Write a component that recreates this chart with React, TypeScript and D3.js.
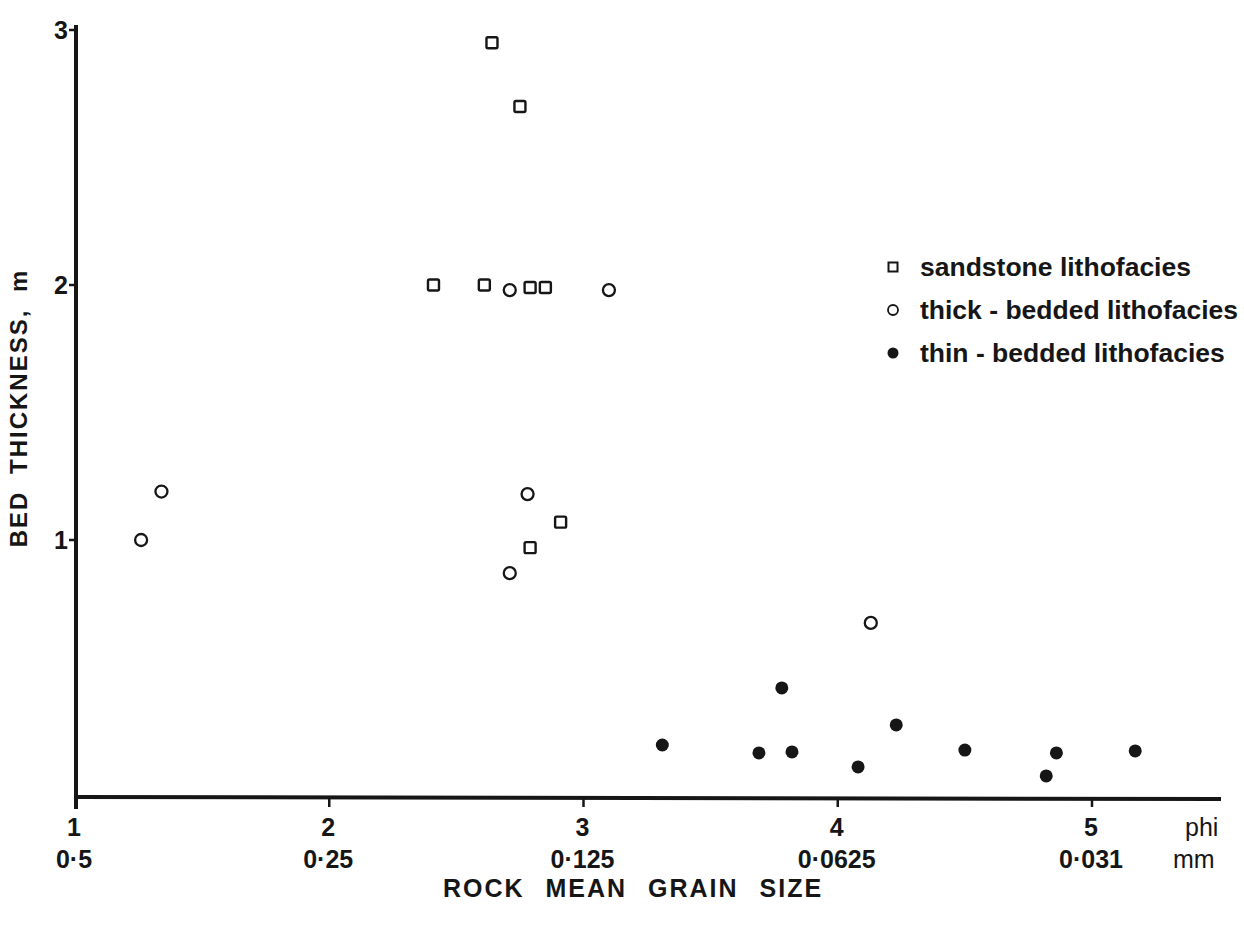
import React, { useEffect, useRef } from "react";
import * as d3 from "d3";

// grain size in phi, bed thickness in m
const sandstonePhi = [2.64, 2.75, 2.41, 2.61, 2.79, 2.85, 2.91, 2.79];
const sandstoneThick = [2.95, 2.7, 2.0, 2.0, 1.99, 1.99, 1.07, 0.97];

const thickBeddedPhi = [1.26, 1.34, 2.71, 3.1, 2.78, 2.71, 4.13];
const thickBeddedThick = [1.0, 1.19, 1.98, 1.98, 1.18, 0.87, 0.675];

const thinBeddedPhi = [3.31, 3.69, 3.82, 3.78, 4.08, 4.23, 4.5, 4.82, 4.86, 5.17];
const thinBeddedThick = [0.196, 0.165, 0.169, 0.42, 0.11, 0.275, 0.176, 0.075, 0.165, 0.173];

const phiTicks = [1, 2, 3, 4, 5];
const mmLabels = ["0·5", "0·25", "0·125", "0·0625", "0·031"];
const thickTicks = [1, 2, 3];

const legendLabels = [
  "sandstone lithofacies",
  "thick - bedded lithofacies",
  "thin - bedded lithofacies",
];

const App = () => {
  const svgRef = useRef<SVGSVGElement>(null);

  useEffect(() => {
    const svg = d3.select(svgRef.current);
    svg.selectAll("*").remove();

    const width = 1244;
    const height = 929;
    const ink = "#161616";
    const font = "'Liberation Sans', Arial, sans-serif";

    const x = d3.scaleLinear().domain([1, 5]).range([75, 1092]);
    const y = d3.scaleLinear().domain([0, 3]).range([795, 30]);

    svg.append("rect").attr("width", width).attr("height", height).attr("fill", "#fff");

    // axes
    svg
      .append("line")
      .attr("x1", x(1))
      .attr("x2", 1221)
      .attr("y1", y(0) + 2)
      .attr("y2", y(0) + 4)
      .attr("stroke", ink)
      .attr("stroke-width", 4);
    svg
      .append("line")
      .attr("x1", x(1) + 1)
      .attr("x2", x(1) + 1)
      .attr("y1", y(3) - 5)
      .attr("y2", y(0) + 14)
      .attr("stroke", ink)
      .attr("stroke-width", 4);

    // x ticks
    svg
      .selectAll(".xtick")
      .data(phiTicks.slice(1))
      .join("line")
      .attr("x1", (d) => x(d))
      .attr("x2", (d) => x(d))
      .attr("y1", y(0) + 4)
      .attr("y2", y(0) + 12)
      .attr("stroke", ink)
      .attr("stroke-width", 2.5);

    svg
      .selectAll(".xlab")
      .data(phiTicks)
      .join("text")
      .attr("x", (d) => x(d) - 1)
      .attr("y", 836)
      .attr("text-anchor", "middle")
      .attr("font-family", font)
      .attr("font-weight", "bold")
      .attr("font-size", 25)
      .attr("fill", ink)
      .text((d) => d);

    svg
      .selectAll(".mmlab")
      .data(mmLabels)
      .join("text")
      .attr("x", (d, i) => x(phiTicks[i]) - 1)
      .attr("y", 868)
      .attr("text-anchor", "middle")
      .attr("font-family", font)
      .attr("font-weight", "bold")
      .attr("font-size", 25)
      .attr("fill", ink)
      .text((d) => d);

    svg
      .append("text")
      .attr("x", 1185)
      .attr("y", 836)
      .attr("font-family", font)
      .attr("font-size", 25)
      .attr("fill", ink)
      .text("phi");
    svg
      .append("text")
      .attr("x", 1173)
      .attr("y", 868)
      .attr("font-family", font)
      .attr("font-size", 25)
      .attr("fill", ink)
      .text("mm");

    svg
      .append("text")
      .attr("x", 633)
      .attr("y", 897)
      .attr("text-anchor", "middle")
      .attr("font-family", font)
      .attr("font-weight", "bold")
      .attr("font-size", 25)
      .attr("letter-spacing", 2)
      .attr("word-spacing", 12)
      .attr("fill", ink)
      .text("ROCK MEAN GRAIN SIZE");

    // y ticks
    svg
      .selectAll(".ytick")
      .data(thickTicks)
      .join("line")
      .attr("x1", x(1) - 6)
      .attr("x2", x(1))
      .attr("y1", (d) => y(d))
      .attr("y2", (d) => y(d))
      .attr("stroke", ink)
      .attr("stroke-width", 2.5);

    svg
      .selectAll(".ylab")
      .data(thickTicks)
      .join("text")
      .attr("x", 68)
      .attr("y", (d) => y(d) + 9)
      .attr("text-anchor", "end")
      .attr("font-family", font)
      .attr("font-weight", "bold")
      .attr("font-size", 25)
      .attr("fill", ink)
      .text((d) => d);

    svg
      .append("text")
      .attr("transform", "translate(27,408) rotate(-90)")
      .attr("text-anchor", "middle")
      .attr("font-family", font)
      .attr("font-weight", "bold")
      .attr("font-size", 24)
      .attr("letter-spacing", 2)
      .attr("word-spacing", 8)
      .attr("fill", ink)
      .text("BED THICKNESS,  m");

    // points
    const sand = sandstonePhi.map((p, i) => ({ p, t: sandstoneThick[i] }));
    const thick = thickBeddedPhi.map((p, i) => ({ p, t: thickBeddedThick[i] }));
    const thin = thinBeddedPhi.map((p, i) => ({ p, t: thinBeddedThick[i] }));

    svg
      .selectAll(".sand")
      .data(sand)
      .join("rect")
      .attr("x", (d) => x(d.p) - 5.5)
      .attr("y", (d) => y(d.t) - 5.5)
      .attr("width", 11)
      .attr("height", 11)
      .attr("rx", 1.5)
      .attr("fill", "none")
      .attr("stroke", ink)
      .attr("stroke-width", 2.4);

    svg
      .selectAll(".thick")
      .data(thick)
      .join("circle")
      .attr("cx", (d) => x(d.p))
      .attr("cy", (d) => y(d.t))
      .attr("r", 6)
      .attr("fill", "none")
      .attr("stroke", ink)
      .attr("stroke-width", 2.3);

    svg
      .selectAll(".thin")
      .data(thin)
      .join("circle")
      .attr("cx", (d) => x(d.p))
      .attr("cy", (d) => y(d.t))
      .attr("r", 6.5)
      .attr("fill", ink);

    // legend
    const lg = svg.append("g").attr("transform", "translate(893,267)");
    const rowGap = 43;
    lg.append("rect")
      .attr("x", -4.5)
      .attr("y", -4.5)
      .attr("width", 9)
      .attr("height", 9)
      .attr("fill", "none")
      .attr("stroke", ink)
      .attr("stroke-width", 2);
    lg.append("circle")
      .attr("cx", 0)
      .attr("cy", rowGap)
      .attr("r", 5)
      .attr("fill", "none")
      .attr("stroke", ink)
      .attr("stroke-width", 1.8);
    lg.append("circle").attr("cx", 0).attr("cy", rowGap * 2).attr("r", 5.5).attr("fill", ink);

    lg.selectAll(".leg")
      .data(legendLabels)
      .join("text")
      .attr("x", 27)
      .attr("y", (d, i) => i * rowGap + 9)
      .attr("font-family", font)
      .attr("font-weight", "bold")
      .attr("font-size", 26.5)
      .attr("fill", ink)
      .text((d) => d);
  }, []);

  return (
    <svg
      ref={svgRef}
      width={1244}
      height={929}
      style={{ position: "absolute", left: 0, top: 0, display: "block" }}
    ></svg>
  );
};

export default App;
